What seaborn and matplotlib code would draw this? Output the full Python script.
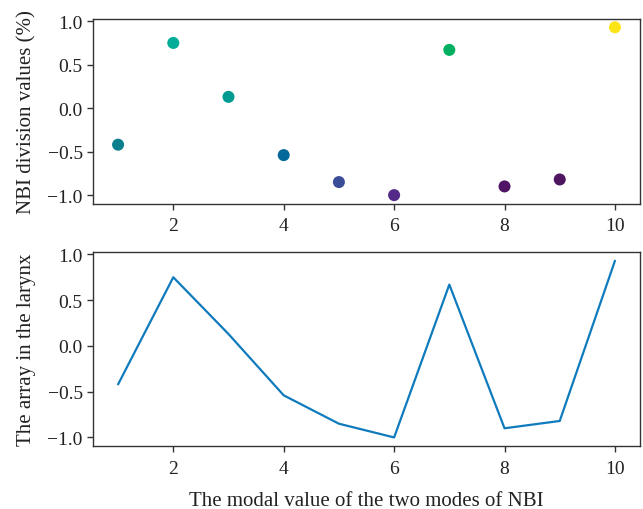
import matplotlib
matplotlib.use("Agg")
import matplotlib.pyplot as plt
import seaborn as sns
import pandas as pd

x_vals = [1, 2, 3, 4, 5, 6, 7, 8, 9, 10]
nbi_values = [-0.42, 0.75, 0.13, -0.54, -0.85, -1.0, 0.67, -0.90, -0.82, 0.93]
point_colors = ["#0a7f8e", "#00ad96", "#009a90", "#04689a", "#3c4d98",
                "#532a88", "#00b060", "#4f1463", "#4e1661", "#fbe518"]
line_color = "#0f7bbd"

top_ylabel = "NBI division values (%)"
bottom_ylabel = "The array in the larynx"
xlabel = "The modal value of the two modes of NBI"

sns.set_theme(style="ticks")
plt.rcParams['font.family'] = ['Liberation Serif', 'DejaVu Serif']

df = pd.DataFrame({"x": x_vals, "y": nbi_values, "id": [str(v) for v in x_vals]})

fig = plt.figure(figsize=(6.43, 5.10), dpi=100)
ax1 = fig.add_axes([0.145, 0.599, 0.850, 0.362])
ax2 = fig.add_axes([0.145, 0.123, 0.850, 0.381])

sns.scatterplot(data=df, x="x", y="y", hue="id", palette=point_colors,
                s=75, linewidth=0, legend=False, ax=ax1)
sns.lineplot(data=df, x="x", y="y", color=line_color, linewidth=1.6, ax=ax2)

for ax in (ax1, ax2):
    ax.set_xticks([2, 4, 6, 8, 10])
    ax.set_yticks([-1.0, -0.5, 0.0, 0.5, 1.0])
    ax.set_yticklabels(["\u22121.0", "\u22120.5", "0.0", "0.5", "1.0"])
    ax.tick_params(labelsize=14, length=4, width=1, colors="#333333", labelcolor="#222222")
    ax.tick_params(axis="x", pad=6)
    for sp in ax.spines.values():
        sp.set_visible(True)
        sp.set_color("#333333")
        sp.set_linewidth(1.0)
    ax.set_xlim(0.55, 10.45)
    ax.set_ylim(-1.0965, 1.0265)

ax1.set_xlabel("")
ax1.set_ylabel(top_ylabel, fontsize=15, color="#222222", labelpad=8)
ax2.set_xlabel(xlabel, fontsize=15, color="#222222", labelpad=10)
ax2.set_ylabel(bottom_ylabel, fontsize=15, color="#222222", labelpad=8)

fig.savefig("out.png", dpi=100)
